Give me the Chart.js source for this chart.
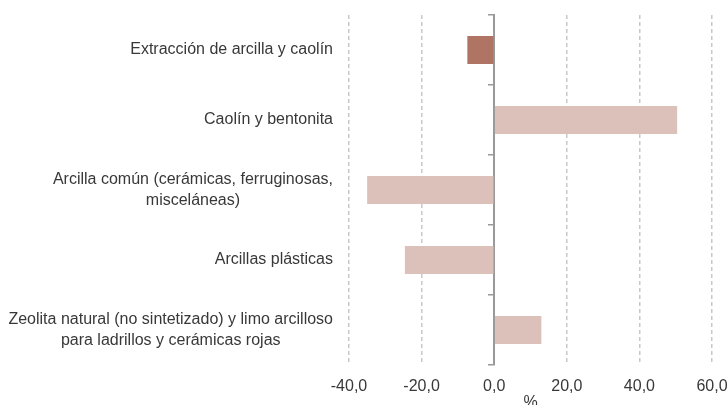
<!DOCTYPE html>
<html>
<head>
<meta charset="utf-8">
<script src="https://cdn.jsdelivr.net/npm/chart.js@4"></script>
<style>
  html,body{margin:0;padding:0;background:#fff;overflow:hidden}
  #chart{display:block}
</style>
</head>
<body>
<canvas id="chart" width="727" height="405"></canvas>
<script>
// categories (multi-line labels), values in %
const categories = [
  ['Extracción de arcilla y caolín'],
  ['Caolín y bentonita'],
  ['Arcilla común (cerámicas, ferruginosas,', 'misceláneas)'],
  ['Arcillas plásticas'],
  ['Zeolita natural (no sintetizado) y limo arcilloso', 'para ladrillos y cerámicas rojas']
];
const values = [-7.4, 50.4, -35.0, -24.6, 13.0];
const barColors = ['#b07464', '#dcc1ba', '#dcc1ba', '#dcc1ba', '#dcc1ba'];
const xMin = -40, xMax = 60, xStep = 20;

const FONT = '"Liberation Sans", Helvetica, Arial, sans-serif';
const TEXT = '#383838';

// draw y labels: each block right aligned, lines centred inside the block
const labelPlugin = {
  id: 'blockLabels',
  afterDraw(chart){
    const ctx = chart.ctx, y = chart.scales.y;
    ctx.save();
    ctx.font = '16px ' + FONT;
    ctx.fillStyle = TEXT;
    ctx.textAlign = 'center';
    ctx.textBaseline = 'middle';
    categories.forEach((lines, i)=>{
      const cy = y.getPixelForValue(i);
      const w = Math.max(...lines.map(l=> ctx.measureText(l).width));
      const cx = y.right - 16 - w/2;
      lines.forEach((l, j)=> ctx.fillText(l, cx, cy + (j - (lines.length-1)/2)*21));
    });
    ctx.restore();
  }
};

new Chart(document.getElementById('chart'), {
  type: 'bar',
  data: {
    labels: categories,
    datasets: [{
      data: values,
      backgroundColor: barColors,
      barPercentage: 0.4,
      categoryPercentage: 1
    }]
  },
  options: {
    indexAxis: 'y',
    responsive: false,
    animation: false,
    layout: {padding: {top: 15, right: 0, left: 0, bottom: 0}},
    plugins: {legend: {display: false}, tooltip: {enabled: false}},
    scales: {
      x: {
        type: 'linear',
        min: xMin, max: xMax,
        ticks: {
          stepSize: xStep,
          padding: 12,
          color: TEXT,
          font: {family: FONT, size: 16},
          callback: v => v.toFixed(1).replace('.', ',')
        },
        grid: {
          color: c => c.tick && c.tick.value === 0 ? 'rgba(0,0,0,0)' : '#c8c8c8',
          lineWidth: 1.5,
          drawTicks: false
        },
        border: {display: false, dash: [4, 3]},
        title: {
          display: true, text: '%', color: TEXT,
          font: {family: FONT, size: 16},
          padding: {top: 0, bottom: -7}
        },
        afterFit: s => { s.height = 40; s.paddingLeft = 0; s.paddingRight = 15; }
      },
      y: {
        ticks: {display: false},
        grid: {display: false},
        border: {display: false},
        afterFit: s => { s.width = 349; }
      },
      y2: {
        type: 'category',
        axis: 'y',
        labels: categories.map((c, i)=> String(i)),
        position: {x: 0},
        offset: true,
        ticks: {display: false},
        grid: {drawOnChartArea: false, offset: true, tickLength: 5, color: '#999', lineWidth: 1.5},
        border: {color: '#999', width: 2}
      }
    }
  },
  plugins: [labelPlugin]
});
</script>
</body>
</html>
